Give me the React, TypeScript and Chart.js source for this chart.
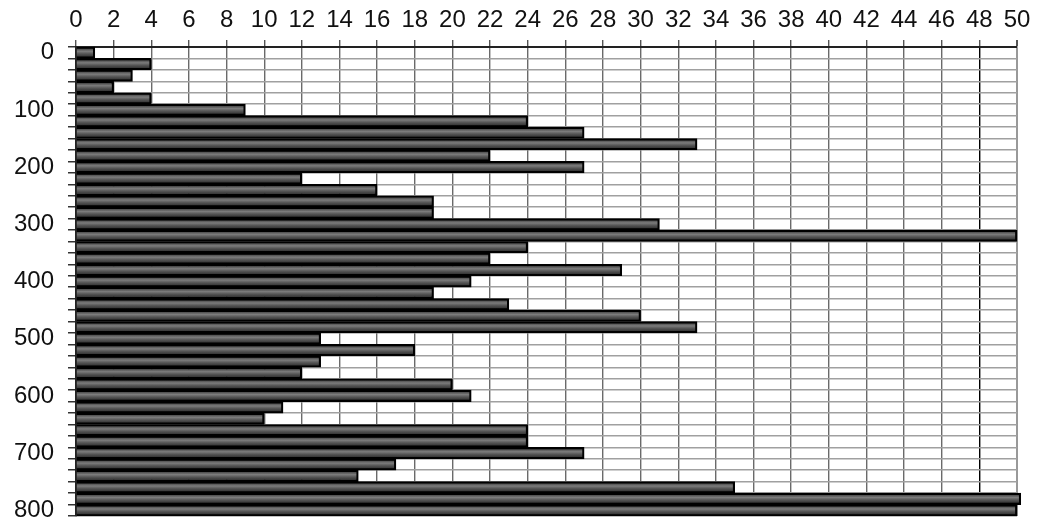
import React, { useEffect, useRef } from "react";
import { Chart, registerables } from "chart.js";

Chart.register(...registerables);

const depths: number[] = [
  0, 20, 40, 60, 80, 100, 120, 140, 160, 180, 200, 220, 240, 260, 280, 300, 320, 340, 360, 380,
  400, 420, 440, 460, 480, 500, 520, 540, 560, 580, 600, 620, 640, 660, 680, 700, 720, 740, 760, 780, 800,
];
const counts: number[] = [
  1, 4, 3, 2, 4, 9, 24, 27, 33, 22, 27, 12, 16, 19, 19, 31, 50, 24, 22, 29,
  21, 19, 23, 30, 33, 13, 18, 13, 12, 20, 21, 11, 10, 24, 24, 27, 17, 15, 35, 50.2, 50,
];
const depthLabels: string[] = ["0", "100", "200", "300", "400", "500", "600", "700", "800"];
const xMin = 0;
const xMax = 50;
const xStep = 2;

const FONT = '"Liberation Sans", Arial, sans-serif';

export default function App() {
  const ref = useRef<HTMLCanvasElement | null>(null);

  useEffect(() => {
    if (!ref.current) return;
    const labels = depths.map((d) => String(d));

    const barFill = (c: any) => {
      const chart = c.chart;
      const area = chart.chartArea;
      if (!area) return "#555";
      const g = chart.ctx.createLinearGradient(0, area.top, 0, area.bottom);
      const n = labels.length;
      for (let i = 0; i < n; i++) {
        const a = i / n;
        const w = 1 / n;
        g.addColorStop(Math.min(1, a + w * 0.02), "#2a2a2a");
        g.addColorStop(Math.min(1, a + w * 0.38), "#7c7c7c");
        g.addColorStop(Math.min(1, a + w * 0.6), "#555");
        g.addColorStop(Math.min(1, a + w * 0.98), "#222");
      }
      return g;
    };

    const chart = new Chart(ref.current, {
      type: "bar",
      data: {
        labels,
        datasets: [
          {
            data: counts,
            backgroundColor: barFill,
            borderColor: "#000",
            borderWidth: 2.2,
            borderSkipped: "start",
            barPercentage: 1,
            categoryPercentage: 1,
            clip: false as any,
          },
        ],
      },
      options: {
        indexAxis: "y",
        animation: false,
        responsive: false,
        maintainAspectRatio: false,
        layout: { padding: { left: 0, right: 21, top: 0, bottom: 1 } },
        plugins: { legend: { display: false }, tooltip: { enabled: false } },
        scales: {
          x: {
            type: "linear",
            position: "top",
            min: xMin,
            max: xMax,
            afterFit: (s: any) => {
              s.height = 47;
              s.paddingLeft = 0;
              s.paddingRight = 0;
            },
            ticks: {
              stepSize: xStep,
              color: "#111",
              font: { family: FONT, size: 24 },
              padding: 5,
              maxRotation: 0,
              autoSkip: false,
            },
            grid: {
              color: (c: any) => (c.tick && c.tick.value === 48 ? "#000" : c.tick && c.tick.value === 50 ? "#999" : "#6a6a6a"),
              lineWidth: (c: any) => (c.tick && c.tick.value === 50 ? 2 : 1.4),
              tickLength: 7,
              tickColor: "#555",
            },
            border: { color: "#222", width: 2 },
          },
          y: {
            type: "category",
            afterFit: (s: any) => {
              s.width = 76;
              s.paddingTop = 0;
              s.paddingBottom = 0;
            },
            ticks: {
              autoSkip: false,
              color: "#111",
              font: { family: FONT, size: 24 },
              padding: 14,
              callback: (_v: any, i: number) => {
                const d = depths[i];
                return depthLabels.includes(String(d)) ? String(d) : "";
              },
            },
            grid: {
              offset: true,
              color: "#a0a0a0",
              lineWidth: 1.5,
              tickLength: 8,
              tickColor: "#333",
            },
            border: { color: "#222", width: 2 },
          },
        },
      },
    });
    return () => chart.destroy();
  }, []);

  return (
    <div style={{ position: "absolute", left: 0, top: 0, width: 1038, height: 517, background: "#fff" }}>
      <canvas ref={ref} width={1038} height={517} style={{ width: 1038, height: 517, display: "block" }} />
    </div>
  );
}
